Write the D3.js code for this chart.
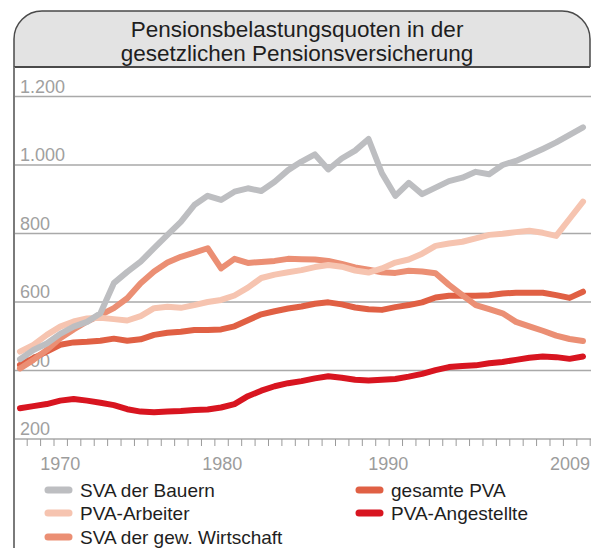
<!DOCTYPE html>
<html>
<head>
<meta charset="utf-8">
<script src="https://cdn.jsdelivr.net/npm/d3@7"></script>
<style>
  body { margin: 0; background: #fff; }
  svg { display: block; font-family: "Liberation Sans", Arial, Helvetica, sans-serif; }
</style>
</head>
<body>
<div id="chart"></div>
<script>
// Pensionsbelastungsquoten 1967-2009 (Pensionen je 1.000 Pflichtversicherte)
const years = d3.range(1967, 2010);

const bauern = [433, 460, 479, 507, 528, 542, 567, 655, 688, 718,
    757, 796, 834, 883, 910, 898, 922, 932, 924, 951,
    985, 1010, 1031, 987, 1019, 1042, 1076, 976, 910, 948,
    915, 934, 953, 963, 980, 973, 1000, 1012, 1029, 1047,
    1066, 1088, 1110];
const arbeiter = [455, 475, 504, 528, 543, 552, 554, 550, 546, 559,
    582, 586, 583, 591, 600, 606, 619, 642, 670, 680,
    687, 693, 702, 708, 703, 692, 686, 698, 715, 724,
    741, 764, 771, 776, 786, 796, 799, 804, 808, 802,
    793, 843, 893];
const wirtschaft = [406, 431, 460, 494, 520, 543, 562, 582, 611, 655,
    689, 715, 732, 744, 757, 698, 726, 714, 717, 720,
    726, 725, 724, 720, 711, 701, 694, 687, 685, 691,
    689, 684, 650, 620, 591, 579, 567, 542, 529, 516,
    502, 492, 486];
const gesamt = [416, 436, 455, 475, 482, 484, 487, 493, 487, 491,
    504, 510, 513, 518, 518, 520, 529, 547, 564, 573,
    581, 587, 595, 599, 593, 584, 579, 577, 585, 591,
    599, 613, 618, 618, 618, 620, 625, 627, 627, 627,
    620, 612, 630];
const angestellte = [290, 296, 302, 312, 317, 312, 306, 299, 287, 280,
    278, 280, 282, 285, 286, 292, 302, 325, 341, 354,
    363, 369, 377, 383, 379, 373, 371, 373, 375, 382,
    390, 401, 410, 413, 415, 421, 425, 431, 437, 441,
    439, 434, 441];

const seriesNames = ["SVA der Bauern", "PVA-Arbeiter", "SVA der gew. Wirtschaft", "gesamte PVA", "PVA-Angestellte"];
const seriesValues = [bauern, arbeiter, wirtschaft, gesamt, angestellte];
const seriesColors = ["#bdbec1", "#f6c4b0", "#eb8f74", "#e06044", "#d81520"];

const yTicks = [200, 400, 600, 800, 1000, 1200];
const xLabels = [1970, 1980, 1990, 2009];
const titleLines = ["Pensionsbelastungsquoten in der", "gesetzlichen Pensionsversicherung"];

const width = 591, height = 548;
const frameLeft = 14, frameRight = 591;

const svg = d3.select("#chart").append("svg")
    .attr("width", width)
    .attr("height", height);

const x = d3.scaleLinear().domain([1967, 2009]).range([20, 583]);
const y = d3.scaleLinear().domain([200, 1200]).range([439, 96.5]);
const de = d3.formatLocale({decimal: ",", thousands: ".", grouping: [3], currency: ["", " €"]});
const fmt = de.format(",");

// title box with rounded top corners
const r = 28, boxTop = 11, boxBottom = 67, boxRight = 590;
svg.append("path")
    .attr("d", "M" + frameLeft + "," + boxBottom + " V" + (boxTop + r) +
        " A" + r + "," + r + " 0 0 1 " + (frameLeft + r) + "," + boxTop +
        " H" + (boxRight - r) +
        " A" + r + "," + r + " 0 0 1 " + boxRight + "," + (boxTop + r) +
        " V" + boxBottom)
    .attr("fill", "#e3e3e3")
    .attr("stroke", "#4a4a4a")
    .attr("stroke-width", 1.5);

svg.append("line")
    .attr("x1", frameLeft).attr("x2", boxRight)
    .attr("y1", boxBottom).attr("y2", boxBottom)
    .attr("stroke", "#4a4a4a")
    .attr("stroke-width", 2);

svg.selectAll("text.title")
    .data(titleLines)
    .enter().append("text")
    .attr("class", "title")
    .attr("x", 297)
    .attr("y", (d, i) => 37 + i * 24)
    .attr("text-anchor", "middle")
    .attr("font-size", 22.5)
    .attr("fill", "#1e1e1e")
    .text(d => d);

// gridlines
svg.selectAll("line.grid")
    .data(yTicks)
    .enter().append("line")
    .attr("class", "grid")
    .attr("x1", frameLeft).attr("x2", frameRight)
    .attr("y1", d => y(d)).attr("y2", d => y(d))
    .attr("stroke", "#a9a9a9")
    .attr("stroke-width", 1.5);

svg.selectAll("text.ylab")
    .data(yTicks)
    .enter().append("text")
    .attr("class", "ylab")
    .attr("x", 20)
    .attr("y", d => y(d) - 4)
    .attr("font-size", 18)
    .attr("fill", "#a0a0a0")
    .text(d => fmt(d));

// year ticks sit on the band edges
const tickYears = d3.range(1966.5, 2010, 1);
svg.append("g")
    .attr("transform", "translate(0," + y(200) + ")")
    .call(d3.axisBottom(x).tickValues(tickYears).tickSize(7).tickSizeOuter(0).tickFormat(""))
    .call(g => g.select(".domain").remove())
    .call(g => g.selectAll(".tick line").attr("stroke", "#9a9a9a"));

// label positions in the original are loose, nudged per label
const labelNudge = {1970: 0, 1980: 28, 1990: 60, 2009: -13};
svg.selectAll("text.xlab")
    .data(xLabels)
    .enter().append("text")
    .attr("class", "xlab")
    .attr("x", d => x(d) + labelNudge[d])
    .attr("y", 470)
    .attr("text-anchor", "middle")
    .attr("font-size", 18)
    .attr("fill", "#9c9c9c")
    .text(d => d);

// left frame line
svg.append("line")
    .attr("x1", frameLeft).attr("x2", frameLeft)
    .attr("y1", boxBottom).attr("y2", height)
    .attr("stroke", "#7a7a7a")
    .attr("stroke-width", 2);

// lines, drawn bottom to top
const line = d3.line()
    .x((d, i) => x(years[i]))
    .y(d => y(d));

const drawOrder = [4, 3, 2, 1, 0];
svg.selectAll("path.series")
    .data(drawOrder)
    .enter().append("path")
    .attr("class", "series")
    .attr("d", k => line(seriesValues[k]))
    .attr("fill", "none")
    .attr("stroke", k => seriesColors[k])
    .attr("stroke-width", 6)
    .attr("stroke-linejoin", "round")
    .attr("stroke-linecap", "round");

// legend
const legendPos = [[45, 490], [45, 513], [45, 537], [356, 490], [356, 513]];
const legend = svg.selectAll("g.legend")
    .data(seriesNames)
    .enter().append("g")
    .attr("class", "legend")
    .attr("transform", (d, i) => "translate(" + legendPos[i][0] + "," + legendPos[i][1] + ")");

legend.append("line")
    .attr("x1", 3).attr("x2", 24)
    .attr("y1", 0).attr("y2", 0)
    .attr("stroke", (d, i) => seriesColors[i])
    .attr("stroke-width", 7)
    .attr("stroke-linecap", "round");

legend.append("text")
    .attr("x", 35)
    .attr("y", 7)
    .attr("font-size", 19)
    .attr("fill", "#1e1e1e")
    .text(d => d);
</script>
</body>
</html>
